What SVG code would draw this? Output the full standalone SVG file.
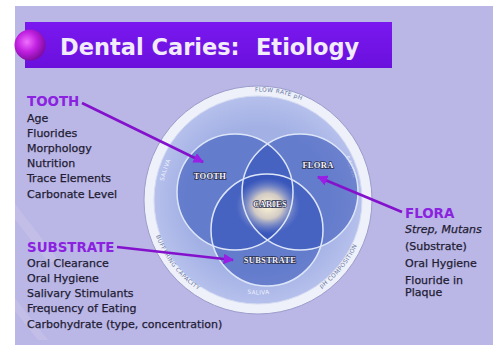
<svg xmlns="http://www.w3.org/2000/svg" width="499" height="347" viewBox="0 0 499 347">
  <defs>
    <radialGradient id="sphere" cx="0.4" cy="0.4" r="0.65">
      <stop offset="0" stop-color="#f070ff"/>
      <stop offset="0.5" stop-color="#c020e0"/>
      <stop offset="1" stop-color="#7a0a9a"/>
    </radialGradient>
    <linearGradient id="bar" x1="0" y1="0" x2="0" y2="1">
      <stop offset="0" stop-color="#7a18f0"/>
      <stop offset="1" stop-color="#6a10dc"/>
    </linearGradient>
    <radialGradient id="glow" cx="0.5" cy="0.5" r="0.5">
      <stop offset="0" stop-color="#fff6d8"/>
      <stop offset="0.45" stop-color="#eee0c6" stop-opacity="0.85"/>
      <stop offset="1" stop-color="#8a9ad8" stop-opacity="0"/>
    </radialGradient>
    <radialGradient id="disc" cx="0.5" cy="0.5" r="0.5">
      <stop offset="0.7" stop-color="#a2b0e4"/>
      <stop offset="1" stop-color="#b6c0ec"/>
    </radialGradient>
    <marker id="ah" viewBox="0 0 10 10" refX="9" refY="5" markerWidth="4" markerHeight="4" orient="auto" markerUnits="strokeWidth">
      <path d="M0,0 L10,5 L0,10 Z" fill="#9a1ee6"/>
    </marker>
    <!-- ring label paths -->
    <path id="ringTop" d="M 150,200 A 108.5,108.5 0 0 1 367,200"/>
    <path id="ringBottom" d="M 150,200 A 108.5,108.5 0 0 0 367,200"/>
    <path id="innerTop" d="M 162,200 A 96.5,96.5 0 0 1 355,200"/>
    <path id="innerBottom" d="M 164,200 A 94.5,94.5 0 0 0 353,200"/>
  </defs>
  <style>
    .list { font-family: "DejaVu Sans", Verdana, sans-serif; font-size: 11px; fill: #221c34; stroke: #221c34; stroke-width: 0.25px; }
    .head { font-family: "DejaVu Sans", Verdana, sans-serif; font-size: 13.4px; font-weight: bold; fill: #8a22e0; }
    .venn { font-family: "Liberation Serif", "Times New Roman", serif; font-size: 8.5px; font-weight: bold; fill: #f4f4fa; stroke: #2a2f50; stroke-width: 1.4px; paint-order: stroke; text-anchor: middle; letter-spacing: 0.3px; }
    .ring { font-family: "DejaVu Sans", sans-serif; font-size: 5.8px; fill: #6a7aa4; letter-spacing: 0.4px; }
    .ringw { font-family: "DejaVu Sans", sans-serif; font-size: 5.8px; fill: #eef2fc; letter-spacing: 0.4px; }
    .arrow { stroke: #8412cc; stroke-width: 2.6; fill: none; marker-end: url(#ah); }
    .vc { fill: #2c4cb6; fill-opacity: 0.52; }
  </style>

  <!-- page and slide -->
  <rect x="0" y="0" width="499" height="347" fill="#ffffff"/>
  <rect x="15" y="6" width="478" height="339" fill="#bab6e5"/>
  <!-- faint diagonal bands along the left edge -->
  <polygon points="0,200 12,200 60,262 48,262" fill="#ffffff" opacity="0.12"/>
  <polygon points="0,292 10,292 48,340 38,340" fill="#ffffff" opacity="0.12"/>

  <!-- title -->
  <g id="title">
    <rect x="25" y="22" width="367" height="46" fill="url(#bar)"/>
    <circle cx="30" cy="45" r="15.5" fill="url(#sphere)"/>
    <text x="60" y="55" font-family="DejaVu Sans, Verdana, sans-serif" font-size="22.5" font-weight="bold" fill="#f2ecfa">Dental Caries:</text>
    <text x="256" y="55" font-family="DejaVu Sans, Verdana, sans-serif" font-size="22.5" font-weight="bold" fill="#f2ecfa">Etiology</text>
  </g>

  <!-- saliva ring -->
  <g id="ring">
    <circle cx="258" cy="200" r="114" fill="#eef0fa" stroke="#9c9ecb" stroke-width="1"/>
    <circle cx="258" cy="200" r="104" fill="url(#disc)" stroke="#d4dcf2" stroke-width="1"/>
    <text class="ring"><textPath href="#ringTop" startOffset="56%" text-anchor="middle">FLOW RATE pH</textPath></text>
    <text class="ring"><textPath href="#ringBottom" startOffset="21%" text-anchor="middle">BUFFERING CAPACITY</textPath></text>
    <text class="ring"><textPath href="#ringBottom" startOffset="78%" text-anchor="middle">pH COMPOSITION</textPath></text>
    <text class="ringw"><textPath href="#innerTop" startOffset="10%" text-anchor="middle">SALIVA</textPath></text>
    <text class="ringw"><textPath href="#innerTop" startOffset="89%" text-anchor="middle">SALIVA</textPath></text>
    <text class="ringw"><textPath href="#innerBottom" startOffset="50%" text-anchor="middle">SALIVA</textPath></text>
  </g>

  <!-- venn circles -->
  <g id="tooth">
    <circle class="vc" cx="235" cy="192" r="58"/>
  </g>
  <g id="flora">
    <circle class="vc" cx="300" cy="192" r="58"/>
  </g>
  <g id="substrate">
    <circle class="vc" cx="267" cy="230" r="56"/>
  </g>
  <g id="caries">
    <ellipse cx="268" cy="206" rx="32" ry="28" fill="url(#glow)"/>
  </g>
  <g id="outlines" fill="none" stroke="#dce6f8" stroke-width="1.5">
    <circle cx="235" cy="192" r="58"/>
    <circle cx="300" cy="192" r="58"/>
    <circle cx="267" cy="230" r="56"/>
  </g>
  <g id="venn-labels">
    <text class="venn" x="210" y="179">TOOTH</text>
    <text class="venn" x="318" y="168">FLORA</text>
    <text class="venn" x="270" y="207">CARIES</text>
    <text class="venn" x="270" y="263">SUBSTRATE</text>
  </g>

  <!-- side lists -->
  <g id="tooth-list">
    <text class="head" x="27" y="106">TOOTH</text>
    <text class="list" x="27" y="122">Age</text>
    <text class="list" x="27" y="137">Fluorides</text>
    <text class="list" x="27" y="152">Morphology</text>
    <text class="list" x="27" y="167">Nutrition</text>
    <text class="list" x="27" y="182">Trace Elements</text>
    <text class="list" x="27" y="198">Carbonate Level</text>
  </g>
  <g id="substrate-list">
    <text class="head" x="27" y="252">SUBSTRATE</text>
    <text class="list" x="27" y="267">Oral Clearance</text>
    <text class="list" x="27" y="282">Oral Hygiene</text>
    <text class="list" x="27" y="297">Salivary Stimulants</text>
    <text class="list" x="27" y="312">Frequency of Eating</text>
    <text class="list" x="27" y="328">Carbohydrate (type, concentration)</text>
  </g>
  <g id="flora-list">
    <text class="head" x="405" y="218">FLORA</text>
    <text class="list" x="405" y="233" font-style="italic">Strep, Mutans</text>
    <text class="list" x="405" y="250">(Substrate)</text>
    <text class="list" x="405" y="267">Oral Hygiene</text>
    <text class="list" x="405" y="284">Flouride in</text>
    <text class="list" x="405" y="296">Plaque</text>
  </g>

  <!-- connectors -->
  <g id="connectors">
    <path class="arrow" d="M 82,103 L 203,162"/>
    <path class="arrow" d="M 402,212 L 318,177"/>
    <path class="arrow" d="M 117,247 L 233,260"/>
  </g>
</svg>
